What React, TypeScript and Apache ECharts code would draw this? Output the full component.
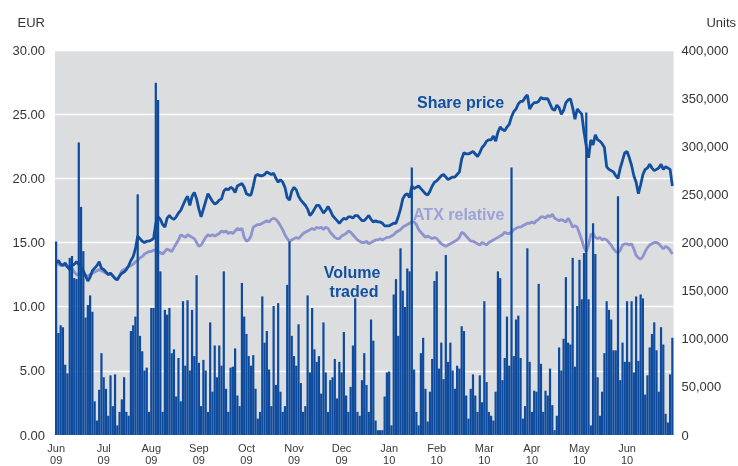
import React, { useEffect, useRef } from "react";
import * as echarts from "echarts";

const monthLabels = ["Jun\n09", "Jul\n09", "Aug\n09", "Sep\n09", "Oct\n09", "Nov\n09", "Dec\n09", "Jan\n10", "Feb\n10", "Mar\n10", "Apr\n10", "May\n10", "Jun\n10"];
const daysPerMonth = 21;

const price = [
  13.4,13.6,13.3,13.2,13.4,13.1,12.9,13.2,13.3,13.5,13.3,13.1,12.8,12.4,12.0,12.3,12.8,13.0,13.2,13.5,13.0,
  12.9,12.7,12.5,12.6,12.4,12.2,12.1,12.4,12.6,12.7,12.9,13.2,13.6,13.9,14.5,15.5,15.3,15.1,15.0,15.1,15.1,
  15.2,15.3,16.5,17.0,16.8,16.4,16.2,16.9,17.1,16.9,16.8,17.0,17.3,17.5,17.9,18.3,18.6,17.9,18.6,18.9,18.4,
  17.6,17.0,17.6,18.2,18.8,18.5,18.2,18.0,18.1,18.3,18.4,19.0,19.2,19.1,19.3,19.2,18.9,19.4,19.5,19.6,19.3,
  18.8,18.7,18.7,19.4,20.2,20.3,20.2,20.2,20.3,20.5,20.4,20.3,20.4,20.0,19.7,19.9,19.7,19.3,18.5,18.3,19.0,
  19.3,19.1,18.6,18.3,18.1,17.9,17.6,17.1,17.3,17.6,17.9,17.9,17.6,17.3,17.5,17.8,17.5,17.1,16.9,16.7,16.5,
  16.7,16.9,16.8,17.0,17.0,16.9,17.1,17.1,16.9,16.7,16.7,16.9,17.1,16.8,16.6,16.7,16.6,16.6,16.5,16.3,16.3,
  16.3,16.4,16.5,16.5,17.0,17.6,18.4,18.7,18.8,18.5,19.4,19.2,19.3,19.4,19.2,19.0,18.8,18.7,19.0,19.4,19.7,
  19.8,20.0,20.2,20.3,20.1,19.9,20.0,20.1,20.1,20.3,20.5,21.5,22.0,21.9,21.9,22.0,22.1,21.9,21.7,22.0,22.4,
  22.6,22.9,23.0,23.0,23.3,22.9,23.6,24.0,23.8,23.7,24.0,24.2,24.8,25.2,25.4,25.8,26.0,26.0,26.3,26.5,25.4,
  25.7,25.9,25.9,26.0,26.3,26.2,26.2,26.2,25.8,25.4,25.3,25.7,25.5,25.0,25.3,25.9,26.1,26.2,25.5,24.6,25.4,
  25.2,25.0,23.6,22.5,21.6,23.0,22.6,23.4,23.0,22.9,22.7,22.4,20.9,20.7,20.6,20.5,20.2,20.0,20.8,21.4,22.0,
  22.1,21.6,21.0,20.2,19.7,18.8,19.5,20.3,20.7,20.8,21.1,20.8,20.6,20.7,20.8,21.1,20.7,20.9,20.8,20.7,19.4,
];

const atxRelative = [
  13.4,13.3,13.2,13.3,13.2,13.1,13.2,13.0,12.7,12.5,12.5,12.6,12.5,12.4,12.4,12.5,12.6,12.7,12.8,12.9,12.8,
  12.7,12.6,12.5,12.6,12.4,12.2,12.1,12.4,12.8,12.9,13.0,13.1,13.2,13.3,13.5,13.6,13.8,13.9,14.1,14.2,14.3,
  14.3,14.4,14.4,14.3,14.2,14.1,14.3,14.5,14.4,14.3,14.6,14.9,15.2,15.6,15.5,15.4,15.6,15.5,15.4,15.3,15.0,
  14.7,14.8,15.1,15.4,15.6,15.5,15.6,15.5,15.6,15.7,15.9,15.8,15.9,15.7,15.8,15.7,15.9,16.1,16.0,16.1,15.4,
  15.1,15.2,15.5,16.2,16.3,16.4,16.4,16.5,16.6,16.7,16.6,16.8,16.9,16.8,16.6,16.3,16.0,15.6,15.3,15.1,15.2,
  15.3,15.4,15.3,15.5,15.7,15.8,15.9,16.0,16.1,16.0,16.2,16.1,16.2,16.0,16.2,16.1,15.8,15.6,15.4,15.3,15.3,
  15.5,15.6,15.7,15.9,15.8,15.6,15.4,15.2,15.1,15.0,15.0,15.1,14.9,15.0,15.1,15.2,15.2,15.3,15.2,15.3,15.4,
  15.4,15.5,15.6,15.8,15.9,16.0,16.2,16.3,16.4,16.5,16.6,16.6,16.4,16.0,15.8,15.6,15.4,15.5,15.4,15.3,15.4,
  15.3,15.1,14.9,14.8,14.7,14.8,14.9,15.0,15.1,15.2,15.4,15.8,15.7,15.5,15.3,15.1,15.1,15.0,14.9,14.8,15.0,
  14.9,14.8,15.0,15.1,15.2,15.3,15.4,15.5,15.6,15.8,15.7,15.7,15.8,16.0,16.1,16.2,16.2,16.3,16.4,16.5,16.5,
  16.6,16.5,16.7,16.8,17.0,17.0,16.9,17.1,17.0,17.2,16.9,16.8,16.7,16.8,16.7,16.6,16.9,16.6,16.2,16.3,16.2,
  15.7,15.2,14.6,14.3,14.8,15.6,15.7,15.4,15.3,15.4,15.2,15.3,15.2,15.0,14.8,14.5,14.3,14.2,14.4,14.8,14.9,
  14.9,14.8,14.9,14.5,14.0,13.8,13.7,13.9,14.3,14.6,14.8,14.9,15.0,15.0,14.9,14.7,14.5,14.7,14.6,14.4,14.1,
];

// volume traded, thousands of units
const volumeK = [
  201,106,114,112,73,64,184,186,163,162,304,237,191,122,135,145,128,35,15,47,85,
  60,48,20,62,30,63,10,24,37,60,24,20,108,114,123,250,103,87,67,70,24,
  132,132,366,348,170,24,130,125,132,85,89,40,80,35,139,72,140,67,130,82,166,
  75,30,78,67,24,117,45,93,60,93,72,170,48,24,70,71,90,41,30,158,123,
  105,82,72,83,48,17,24,144,96,108,68,30,134,52,137,45,24,30,156,201,103,
  82,72,115,54,24,30,145,65,132,89,76,82,43,117,65,24,57,60,79,38,76,
  65,107,41,24,50,93,142,24,20,57,85,52,24,120,98,15,5,5,5,40,65,
  66,10,146,162,103,194,150,133,173,170,278,68,24,10,85,101,48,14,45,79,160,
  170,69,96,58,187,76,96,67,48,72,69,113,108,41,17,48,63,41,24,62,34,
  139,55,24,20,15,45,170,163,57,80,123,72,278,82,120,124,80,17,30,194,76,
  24,46,45,157,74,24,46,41,69,31,5,20,91,67,100,164,96,94,184,71,134,
  182,141,189,335,141,10,220,188,60,20,45,85,139,130,120,88,88,248,57,96,76,
  139,76,139,65,144,77,146,142,42,62,91,105,117,88,45,112,94,22,13,63,101,
];

const FONT = "'Liberation Sans', Arial, Helvetica, sans-serif";
const DARK = "#134f9f";
const LIGHT = "#8e93cd";

export default function App() {
  const ref = useRef<HTMLDivElement>(null);
  useEffect(() => {
    if (!ref.current) return;
    const chart = echarts.init(ref.current, null, { renderer: "svg" });
    const days = volumeK.map((_, i) => String(i));
    chart.setOption({
      animation: false,
      textStyle: { fontFamily: FONT },
      grid: { left: 55, right: 64.5, top: 50, bottom: 28, show: true, backgroundColor: "#dcdddf", borderWidth: 0 },
      xAxis: {
        type: "category",
        data: days,
        boundaryGap: true,
        axisLine: { show: false },
        axisTick: { show: false },
        axisLabel: {
          interval: (index: number) => index % daysPerMonth === 0,
          formatter: (_v: string, index: number) => monthLabels[Math.round(index / daysPerMonth)] || "",
          fontSize: 11,
          lineHeight: 12,
          color: "#3a3a3a",
          margin: 7,
          fontFamily: FONT,
        },
      },
      yAxis: [
        {
          type: "value",
          min: 0,
          max: 30,
          interval: 5,
          position: "left",
          axisLine: { show: false },
          axisTick: { show: false },
          splitLine: { lineStyle: { color: "#ffffff", width: 1.3 } },
          axisLabel: { formatter: (v: number) => v.toFixed(2), fontSize: 13, color: "#333", margin: 10, fontFamily: FONT },
        },
        {
          type: "value",
          min: 0,
          max: 400000,
          interval: 50000,
          position: "right",
          axisLine: { show: false },
          axisTick: { show: false },
          splitLine: { show: false },
          axisLabel: { formatter: (v: number) => v.toLocaleString("en-US"), fontSize: 13, color: "#333", margin: 8, fontFamily: FONT },
        },
      ],
      series: [
        {
          type: "line",
          name: "ATX relative",
          data: atxRelative,
          yAxisIndex: 0,
          showSymbol: false,
          lineStyle: { color: LIGHT, width: 2.8 },
          z: 2,
        },
        {
          type: "line",
          name: "Share price",
          data: price,
          yAxisIndex: 0,
          showSymbol: false,
          lineStyle: { color: DARK, width: 2.8 },
          z: 2,
        },
        {
          type: "bar",
          name: "Volume traded",
          data: volumeK.map((v) => v * 1000),
          yAxisIndex: 1,
          barCategoryGap: "2%",
          itemStyle: { color: "#0e4b9d" },
          z: 3,
        },
      ],
      graphic: [
        { type: "text", x: 45, y: 22, style: { text: "EUR", align: "right", verticalAlign: "middle", fontSize: 13, fontFamily: FONT, fill: "#333" } },
        { type: "text", x: 736, y: 22, style: { text: "Units", align: "right", verticalAlign: "middle", fontSize: 13, fontFamily: FONT, fill: "#333" } },
        { type: "text", x: 417, y: 102, z: 10, style: { text: "Share price", align: "left", verticalAlign: "middle", fontSize: 16, fontWeight: "bold", fontFamily: FONT, fill: DARK } },
        { type: "text", x: 413, y: 214, z: 10, style: { text: "ATX relative", align: "left", verticalAlign: "middle", fontSize: 16, fontWeight: "bold", fontFamily: FONT, fill: "#9ca1d7" } },
        { type: "text", x: 352, y: 272, z: 10, style: { text: "Volume", align: "center", verticalAlign: "middle", fontSize: 16, fontWeight: "bold", fontFamily: FONT, fill: DARK } },
        { type: "text", x: 354, y: 291, z: 10, style: { text: "traded", align: "center", verticalAlign: "middle", fontSize: 16, fontWeight: "bold", fontFamily: FONT, fill: DARK } },
      ],
    });
    return () => chart.dispose();
  }, []);
  return <div ref={ref} style={{ position: "fixed", left: 0, top: 0, width: 738, height: 466 }} />;
}
